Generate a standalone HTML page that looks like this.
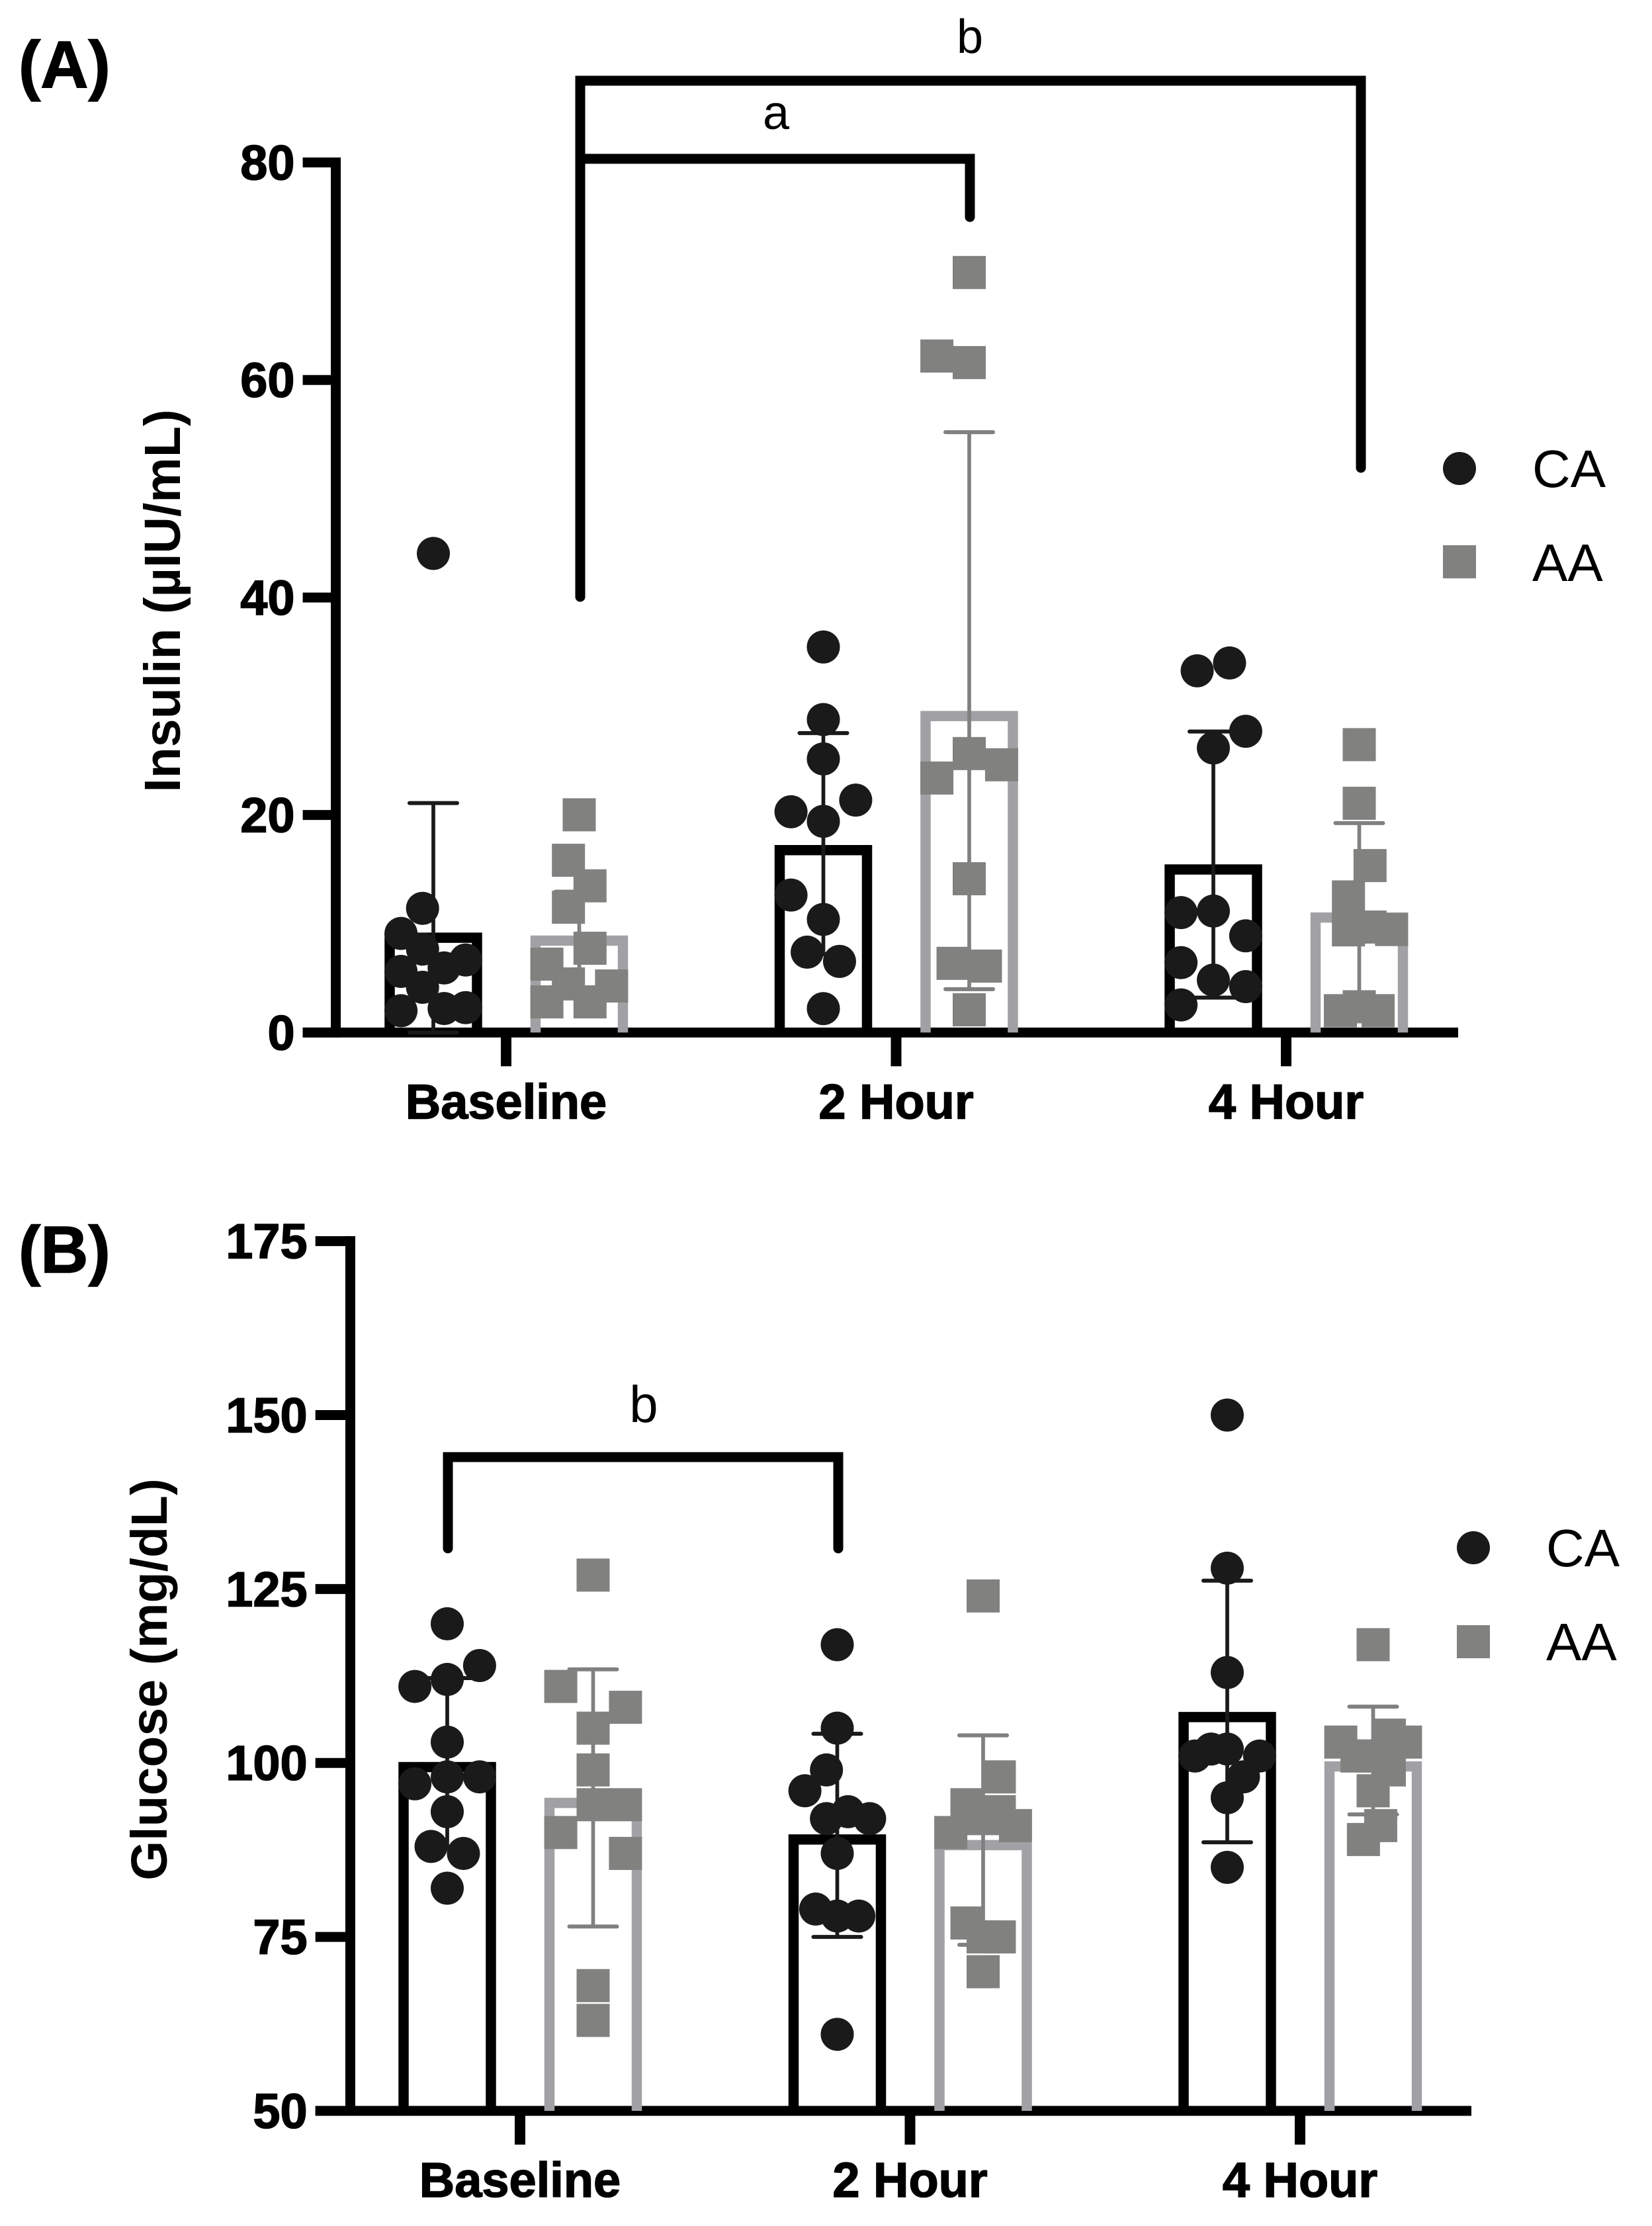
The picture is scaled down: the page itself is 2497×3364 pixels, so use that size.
<!DOCTYPE html>
<html lang="en">
<head>
<meta charset="utf-8">
<title>Insulin and glucose by time point, CA vs AA</title>
<style>
html,body{margin:0;padding:0;background:#fff;}
svg{display:block;}
text{font-family:"Liberation Sans",Arial,sans-serif;fill:#000;}
.tick{font-weight:bold;font-size:74px;stroke:#000;stroke-width:1.5px;}
.title{font-weight:bold;font-size:77px;}
.panel{font-weight:bold;font-size:100px;stroke:#000;stroke-width:1.5px;}
.sig{font-size:72px;}
.legend{font-size:80px;}
</style>
</head>
<body>
<svg id="chart" xmlns="http://www.w3.org/2000/svg" width="2497" height="3364" viewBox="0 0 2497 3364">
  <rect x="0" y="0" width="2497" height="3364" fill="#fff"/>
  <g id="panel-a"></g>
  <g id="panel-b"></g>

  <text class="panel" x="28" y="132">(A)</text>
  <text class="panel" x="28" y="1923">(B)</text>

  <g fill="none" stroke="#000" stroke-width="15">
    <path d="M877 902 V122 H2057 V707" stroke-linecap="round"/>
    <path d="M877 240 H1466 V328" stroke-linecap="round"/>
  </g>
  <text class="sig" x="1173" y="195" text-anchor="middle">a</text>
  <text class="sig" x="1466" y="80" text-anchor="middle">b</text>

  <path d="M677 2340 V2202 H1267 V2340" fill="none" stroke="#000" stroke-width="15" stroke-linecap="round"/>
  <text class="sig" x="973" y="2149" text-anchor="middle" style="font-size:78px">b</text>

  <g>
    <circle cx="2206" cy="708" r="25" fill="#1a1a1a"/>
    <text class="legend" x="2316" y="736">CA</text>
    <rect x="2181" y="824" width="50" height="50" fill="#81817f"/>
    <text class="legend" x="2316" y="878">AA</text>
  </g>
  <g>
    <circle cx="2227" cy="2339" r="25" fill="#1a1a1a"/>
    <text class="legend" x="2337" y="2367">CA</text>
    <rect x="2202" y="2456" width="50" height="50" fill="#81817f"/>
    <text class="legend" x="2337" y="2509">AA</text>
  </g>
</svg>
<script>
const categories = ['Baseline', '2 Hour', '4 Hour'];

const insulinTicks = [0, 20, 40, 60, 80];
const insulinMeansCA = [8.72, 16.77, 14.99];
const insulinMeansAA = [8.45, 29.1, 10.57];
const insulinUpperCA = [21.1, 27.53, 27.68];
const insulinLowerCA = [0, 7.2, 3.21];
const insulinUpperAA = [12.95, 55.2, 19.26];
const insulinLowerAA = [3.95, 3.99, 2.0];
const insulinPointsCA = [
  [44.05, 11.42, 9.11, 7.67, 6.67, 5.94, 5.62, 4.16, 2.01, 2.21, 2.29],
  [35.45, 28.78, 25.16, 21.37, 20.3, 19.42, 12.64, 10.4, 7.39, 6.54, 2.2],
  [33.26, 33.98, 27.7, 26.16, 11.03, 11.17, 8.89, 6.43, 4.82, 4.22, 2.54]
];
const insulinJitterCA = [
  [0, -1, -3, -1, 3, 1, -3, -1, -3, 1, 3],
  [0, 0, 0, 3, -3, 0, -3, 0, -1.5, 1.5, 0],
  [-1.5, 1.5, 3, 0, -3, 0, 3, -3, 0, 3, -3]
];
const insulinPointsAA = [
  [20.02, 15.84, 13.49, 11.52, 7.75, 6.29, 4.47, 4.28, 2.82, 2.82],
  [69.88, 62.2, 61.6, 25.65, 24.62, 23.4, 14.14, 6.36, 6.11, 2.09],
  [26.47, 21.08, 15.35, 12.47, 9.44, 9.7, 9.47, 2.01, 2.37, 2.01]
];
const insulinJitterAA = [
  [0, -1, 1, -1, 1, -3, -1, 3, 1, -3],
  [0, -3, 0, 0, 3, -3, 0, -1.5, 1.5, 0],
  [0, 0, 1, -1, -1, 1, 3, -1.75, 0, 1.75]
];

const glucoseTicks = [50, 75, 100, 125, 150, 175];
const glucoseMeansCA = [99.4, 89.0, 106.6];
const glucoseMeansAA = [94.26, 88.2, 99.5];
const glucoseUpperCA = [112.2, 104.2, 126.2];
const glucoseLowerCA = [87.8, 75.0, 88.6];
const glucoseUpperAA = [113.46, 103.97, 108.1];
const glucoseLowerAA = [76.5, 73.87, 92.6];
const glucosePointsCA = [
  [120, 114, 112, 111, 103, 98, 98, 97, 93, 88, 87, 82],
  [117, 105, 99, 96, 93, 92, 92, 87, 79, 78, 78, 61],
  [150, 128, 113, 101, 102, 102, 101, 98, 95, 85]
];
const glucoseJitterCA = [
  [0, 3, 0, -3, 0, 3, 0, -3, 0, -1.5, 1.5, 0],
  [0, 0, -1, -3, 1, -1, 3, 0, -2, 0, 2, 0],
  [0, 0, 0, -3, -1.5, 0, 3, 1.5, 0, 0]
];
const glucosePointsAA = [
  [127, 111, 108, 105, 99, 94, 94, 90, 87, 68, 63],
  [124, 98, 94, 93, 91, 90, 92, 77, 75, 75, 70],
  [117, 103, 103, 104, 101, 99, 101, 96, 91, 89]
];
const glucoseJitterAA = [
  [0, -3, 3, 0, 0, 0, 3, -3, 3, 0, 0],
  [0, 1.5, -1.5, 1.5, 3, -3, 0, -1.5, 0, 1.5, 0],
  [0, -3, 3, 1.5, -1.5, 1.5, 0, 0, 0.7, -0.9]
];

const SVG_NS = 'http://www.w3.org/2000/svg';
const JITTER_UNIT = 16.3;
const BLACK_BAR = '#000000';
const GRAY_BAR = '#a1a1a5';
const BLACK_MARK = '#1a1a1a';
const GRAY_MARK = '#81817f';
const GRAY_LINE = '#808080';

function linearScale(d0, d1, r0, r1) {
  return function (v) { return r0 + (v - d0) * (r1 - r0) / (d1 - d0); };
}

function make(parent, tag) {
  const el = document.createElementNS(SVG_NS, tag);
  parent.appendChild(el);
  return el;
}

function drawLine(el, x1, y1, x2, y2, color, width) {
  el.setAttribute('x1', x1);
  el.setAttribute('y1', y1);
  el.setAttribute('x2', x2);
  el.setAttribute('y2', y2);
  el.setAttribute('stroke', color);
  el.setAttribute('stroke-width', width);
}

function drawAxes(g, yScale, xCenter, ticks, xAxisLeft, yAxisX, xAxisRight, titleText, titleX, titleY) {
  const y0 = yScale(ticks[0]);
  const yTop = yScale(ticks[ticks.length - 1]);

  const yAxis = make(g, 'line');
  
  
  drawLine(yAxis, yAxisX, yTop - 7.5, yAxisX, y0 + 7.5, '#000', 15);

  const xAxis = make(g, 'line');
  
  
  drawLine(xAxis, xAxisLeft, y0, xAxisRight, y0, '#000', 15);

  ticks.forEach(function (t) {
    const tick = make(g, 'line');
    
    
    drawLine(tick, xAxisLeft, yScale(t), yAxisX, yScale(t), '#000', 15);

    const label = make(g, 'text');
    
    
    label.setAttribute('class', 'tick');
    label.setAttribute('text-anchor', 'end');
    label.setAttribute('x', xAxisLeft - 12);
    label.setAttribute('y', yScale(t) + 26);
    label.textContent = String(t);
  });

  categories.forEach(function (c, i) {
    const tick = make(g, 'line');
    
    
    drawLine(tick, xCenter(i), y0, xCenter(i), y0 + 51, '#000', 16);

    const label = make(g, 'text');
    
    
    label.setAttribute('class', 'tick');
    label.setAttribute('text-anchor', 'middle');
    label.setAttribute('x', xCenter(i));
    label.setAttribute('y', y0 + 130);
    label.textContent = c;
  });

  const title = make(g, 'text');
  
  
  title.setAttribute('class', 'title');
  title.setAttribute('text-anchor', 'middle');
  title.setAttribute('transform', 'translate(' + titleX + ' ' + titleY + ') rotate(-90)');
  title.textContent = titleText;
}

function drawSeries(g, seriesName, yScale, xCenter, baseValue, groupOffset, means, upper, lower, points, jitter, barColor, lineColor, markColor, isSquare) {
  const y0 = yScale(baseValue);
  means.forEach(function (m, i) {
    const cx = xCenter(i) + groupOffset;
    const left = cx - 66;
    const right = cx + 66;

    const bar = make(g, 'path');
    
    
    bar.setAttribute('d', 'M' + left + ' ' + y0 + ' V' + yScale(m) + ' H' + right + ' V' + y0);
    bar.setAttribute('fill', 'none');
    bar.setAttribute('stroke', barColor);
    bar.setAttribute('stroke-width', '15.5');
  });
  means.forEach(function (m, i) {
    const cx = xCenter(i) + groupOffset;

    const stem = make(g, 'line');
    
    
    drawLine(stem, cx, yScale(upper[i]), cx, yScale(lower[i]), lineColor, 5.7);

    const capTop = make(g, 'line');
    
    
    drawLine(capTop, cx - 36, yScale(upper[i]), cx + 36, yScale(upper[i]), lineColor, 6);
    capTop.setAttribute('stroke-linecap', 'round');

    const capLow = make(g, 'line');
    
    
    drawLine(capLow, cx - 36, yScale(lower[i]), cx + 36, yScale(lower[i]), lineColor, 6);
    capLow.setAttribute('stroke-linecap', 'round');
  });
  points.forEach(function (vals, i) {
    const cx = xCenter(i) + groupOffset;
    vals.forEach(function (v, k) {
      const px = cx + jitter[i][k] * JITTER_UNIT;
      const py = yScale(v);
      if (isSquare) {
        const sq = make(g, 'rect');
        
        
        sq.setAttribute('x', px - 25);
        sq.setAttribute('y', py - 25);
        sq.setAttribute('width', 50);
        sq.setAttribute('height', 50);
        sq.setAttribute('fill', markColor);
      } else {
        const dot = make(g, 'circle');
        
        
        dot.setAttribute('cx', px);
        dot.setAttribute('cy', py);
        dot.setAttribute('r', 25);
        dot.setAttribute('fill', markColor);
      }
    });
  });
}

const panelA = document.getElementById('panel-a');
const yInsulin = linearScale(0, 80, 1560.4, 245.5);
const xInsulin = linearScale(0, 2, 765, 1944);
drawAxes(panelA, yInsulin, xInsulin, insulinTicks, 457.6, 507.5, 2204, 'Insulin (µIU/mL)', 272, 908);
drawSeries(panelA, 'insulin-ca', yInsulin, xInsulin, 0, -110, insulinMeansCA, insulinUpperCA, insulinLowerCA, insulinPointsCA, insulinJitterCA, BLACK_BAR, BLACK_MARK, BLACK_MARK, false);
drawSeries(panelA, 'insulin-aa', yInsulin, xInsulin, 0, 110.5, insulinMeansAA, insulinUpperAA, insulinLowerAA, insulinPointsAA, insulinJitterAA, GRAY_BAR, GRAY_LINE, GRAY_MARK, true);

const panelB = document.getElementById('panel-b');
const yGlucose = linearScale(50, 175, 3190, 1875.6);
const xGlucose = linearScale(0, 2, 786, 1965);
drawAxes(panelB, yGlucose, xGlucose, glucoseTicks, 476.7, 529.5, 2224, 'Glucose (mg/dL)', 252, 2538);
drawSeries(panelB, 'glucose-ca', yGlucose, xGlucose, 50, -110, glucoseMeansCA, glucoseUpperCA, glucoseLowerCA, glucosePointsCA, glucoseJitterCA, BLACK_BAR, BLACK_MARK, BLACK_MARK, false);
drawSeries(panelB, 'glucose-aa', yGlucose, xGlucose, 50, 110.5, glucoseMeansAA, glucoseUpperAA, glucoseLowerAA, glucosePointsAA, glucoseJitterAA, GRAY_BAR, GRAY_LINE, GRAY_MARK, true);
</script>
</body>
</html>
